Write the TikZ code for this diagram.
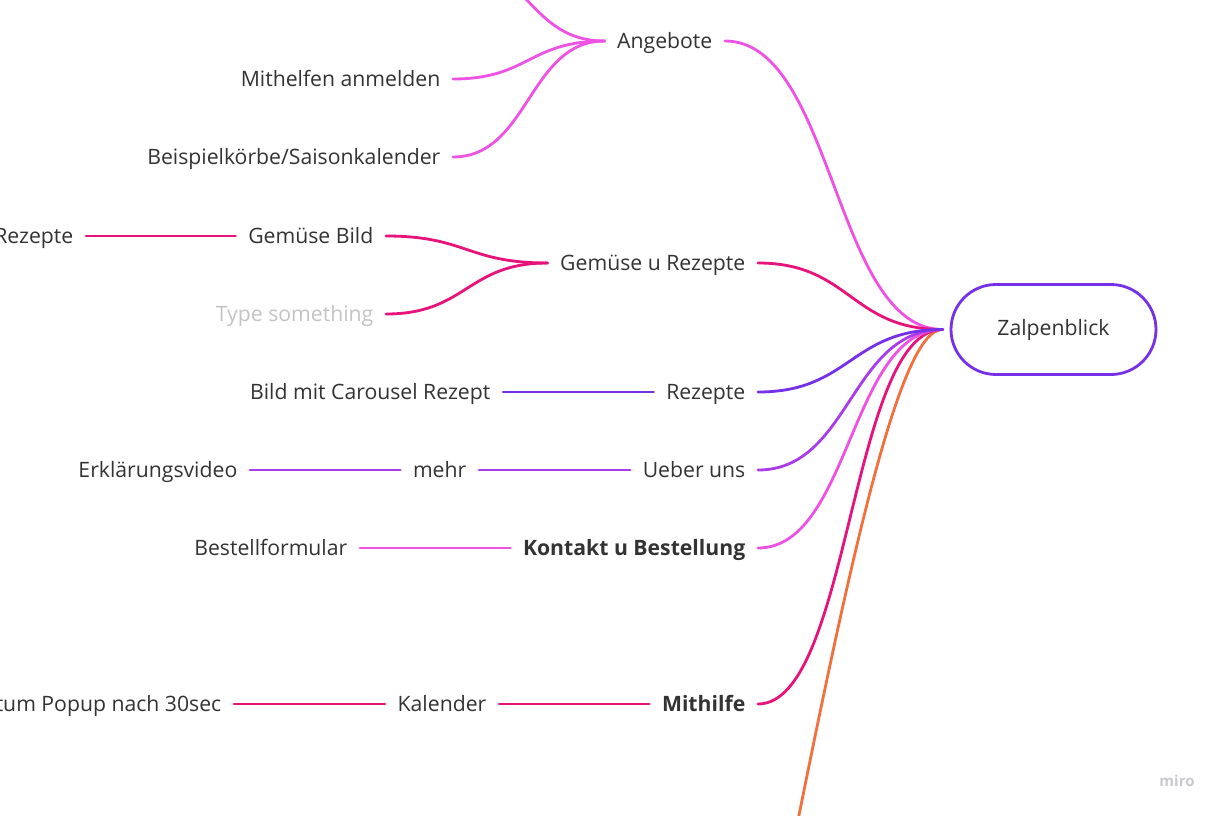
\documentclass[tikz,border=0pt]{standalone}
\usepackage{fontspec}
\setmainfont{Open Sans}
\usetikzlibrary{calc}
\definecolor{magl}{HTML}{EE52E2}
\definecolor{crim}{HTML}{E8137A}
\definecolor{purp}{HTML}{7530E8}
\definecolor{purl}{HTML}{A83CE8}
\definecolor{orng}{HTML}{F2703E}
\definecolor{txt}{HTML}{333333}
\definecolor{ghost}{HTML}{C4C4C4}
\definecolor{logo}{HTML}{C9C9D2}
\tikzset{
  lbl/.style={anchor=east, inner xsep=12.5pt, inner ysep=0pt, text height=15pt, text depth=0pt,
    font=\fontsize{21.2}{25}\selectfont, text=txt},
  conn/.style={line width=2.8pt, line cap=round},
  mm/.style={to path={let \p1=(\tikztostart), \p2=(\tikztotarget) in
    .. controls ({0.5*\x1+0.5*\x2},\y1) and ({0.5*\x1+0.5*\x2},\y2) .. (\tikztotarget)}},
  rootbox/.style={draw=purp, line width=2.8pt, rounded corners=45pt, minimum width=205pt,
    minimum height=90pt, inner sep=0pt, font=\fontsize{21.2}{25}\selectfont, text=txt}
}
\begin{document}
\begin{tikzpicture}[x=1pt,y=-1pt]
\useasboundingbox (0,0) rectangle (1224,816);
\clip (0,0) rectangle (1224,816);
\fill[white] (0,0) rectangle (1224,816);

% root
\node[rootbox] (z) at (1053.5,329.5) {Zalpenblick};
\coordinate (hub) at ([xshift=-7pt]z.west);

% Angebote branch
\node[lbl] (ang) at (725,41) {Angebote};
\node[lbl] (mit) at (453,79) {Mithelfen anmelden};
\node[lbl] (bei) at (453,157) {Beispielkörbe/Saisonkalender};
\coordinate (hid) at (453,-37);

% Gemuese branch
\node[lbl] (gem) at (758,263) {Gemüse u Rezepte};
\node[lbl] (gbild) at (386,236) {Gemüse Bild};
\node[lbl] (rez1) at (86,236) {Rezepte};
\node[lbl, text=ghost] (type) at (386,314) {Type something};

% Rezepte branch
\node[lbl] (rez) at (758,392) {Rezepte};
\node[lbl] (car) at (503,392) {Bild mit Carousel Rezept};

% Ueber uns branch
\node[lbl] (ueb) at (758,470) {Ueber uns};
\node[lbl] (mehr) at (479,470) {mehr};
\node[lbl] (erk) at (250,470) {Erklärungsvideo};

% Kontakt branch
\node[lbl, font=\fontsize{21.2}{25}\selectfont\bfseries] (kon) at (758,548) {Kontakt u Bestellung};
\node[lbl] (bes) at (360,548) {Bestellformular};

% Mithilfe branch
\node[lbl, font=\fontsize{21.2}{25}\selectfont\bfseries] (mh) at (758,704) {Mithilfe};
\node[lbl] (kal) at (499,704) {Kalender};
\node[lbl] (pop) at (234,704) {tum Popup nach 30sec};

% orange branch (off picture)
\coordinate (oend) at (790,860);

% connectors
\draw[conn, magl] (ang.east) to[mm] (hub);
\draw[conn, magl] (mit.east) to[mm] (ang.west);
\draw[conn, magl] (bei.east) to[mm] (ang.west);
\draw[conn, magl] (hid) to[mm] (ang.west);

\draw[conn, crim] (gem.east) to[mm] (hub);
\draw[conn, crim] (gbild.east) to[mm] (gem.west);
\draw[conn, crim] (type.east) to[mm] (gem.west);
\draw[conn, crim] (rez1.east) -- (gbild.west);

\draw[conn, orng] (hub) .. controls (900,328) and (850,560) .. (oend);
\draw[conn, crim] (mh.east) to[mm] (hub);
\draw[conn, crim] (kal.east) -- (mh.west);
\draw[conn, crim] (pop.east) -- (kal.west);

\draw[conn, magl] (kon.east) to[mm] (hub);
\draw[conn, magl] (bes.east) -- (kon.west);

\draw[conn, purl] (ueb.east) to[mm] (hub);
\draw[conn, purl] (mehr.east) -- (ueb.west);
\draw[conn, purl] (erk.east) -- (mehr.west);

\draw[conn, purp] (rez.east) to[mm] (hub);
\draw[conn, purp] (car.east) -- (rez.west);

% logo
\node[font=\fontsize{15}{18}\selectfont\bfseries, text=logo, inner sep=0pt] (miro) at (1177,781) {miro};
\end{tikzpicture}
\end{document}
